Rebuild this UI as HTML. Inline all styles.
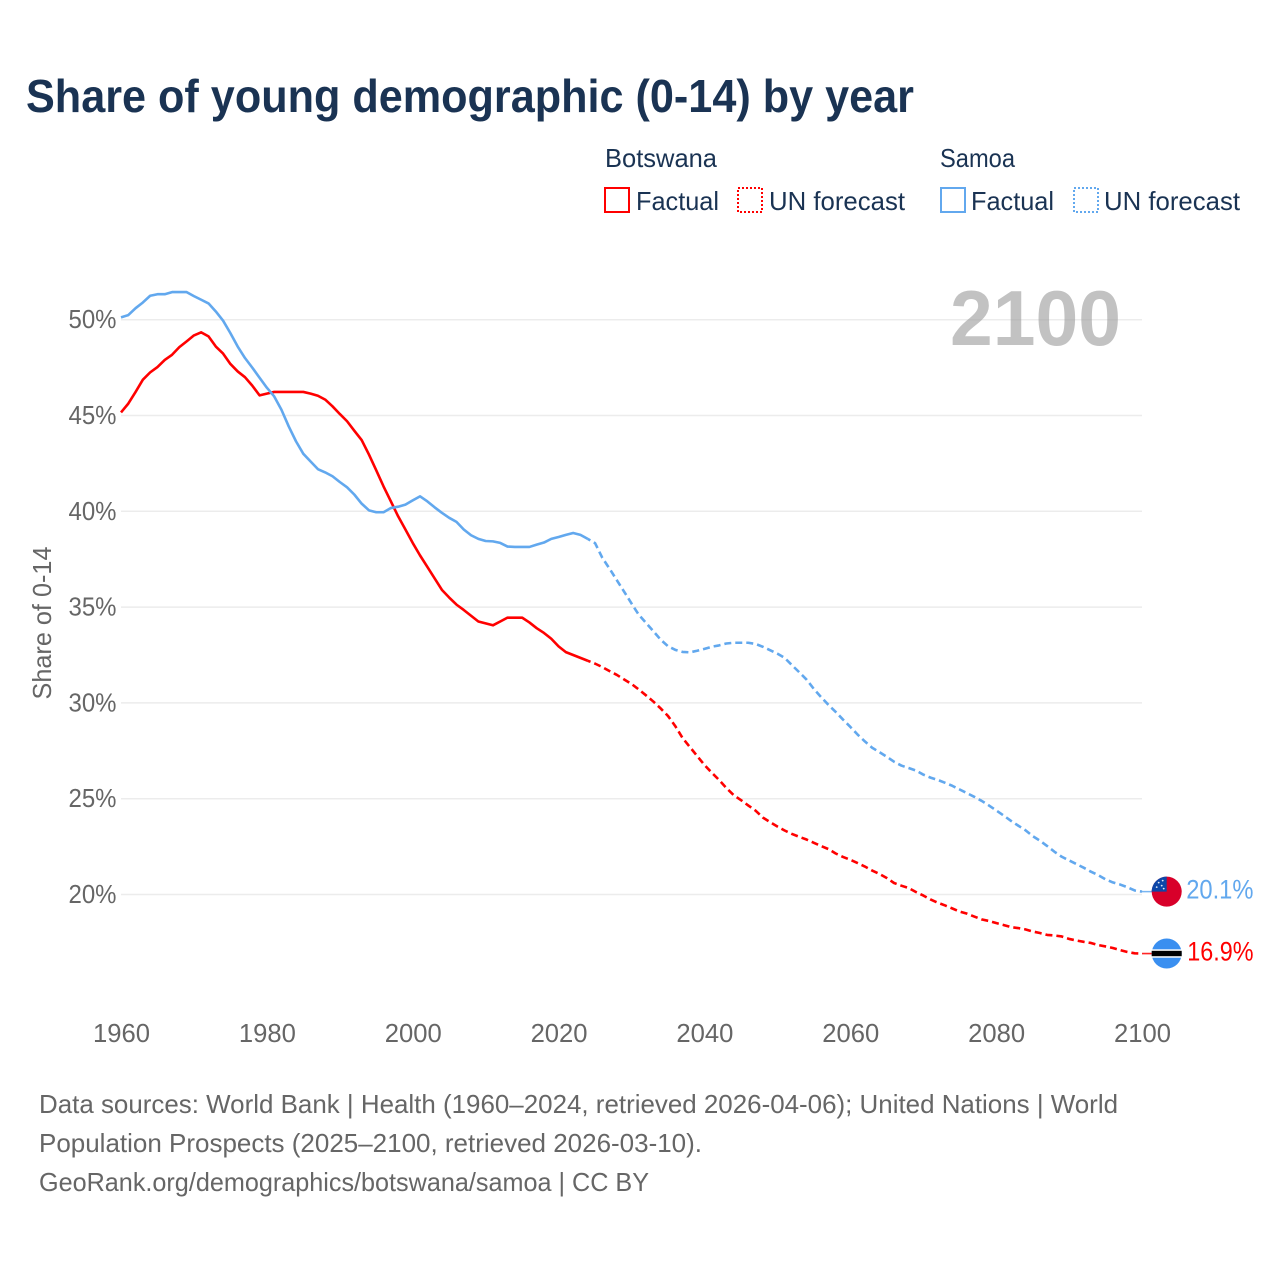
<!DOCTYPE html>
<html lang="en">
<head>
<meta charset="utf-8">
<title>Share of young demographic (0-14) by year</title>
<style>
html,body{margin:0;padding:0;background:#fff;}
svg{display:block;}
text{font-family:"Liberation Sans",sans-serif;}
</style>
</head>
<body>
<svg id="chart" xmlns="http://www.w3.org/2000/svg" width="1280" height="1280" viewBox="0 0 1280 1280">
  <rect x="0" y="0" width="1280" height="1280" fill="#ffffff"/>
  <text x="26" y="112" font-size="46" font-weight="700" fill="#1a3353" textLength="888" lengthAdjust="spacingAndGlyphs">Share of young demographic (0-14) by year</text>

  <g font-size="26" fill="#1a3353">
    <text x="605" y="167" textLength="112" lengthAdjust="spacingAndGlyphs">Botswana</text>
    <text x="940" y="167" textLength="75" lengthAdjust="spacingAndGlyphs">Samoa</text>
    <rect x="605" y="188" width="24" height="24" fill="none" stroke="#ff0000" stroke-width="2"/>
    <text x="636" y="210" textLength="83" lengthAdjust="spacingAndGlyphs">Factual</text>
    <rect x="738" y="188" width="24" height="24" fill="none" stroke="#ff0000" stroke-width="2" stroke-dasharray="2 2"/>
    <text x="769" y="210" textLength="136" lengthAdjust="spacingAndGlyphs">UN forecast</text>
    <rect x="941" y="188" width="24" height="24" fill="none" stroke="#62a8ee" stroke-width="2"/>
    <text x="971" y="210" textLength="83" lengthAdjust="spacingAndGlyphs">Factual</text>
    <rect x="1074" y="188" width="24" height="24" fill="none" stroke="#62a8ee" stroke-width="2" stroke-dasharray="2 2"/>
    <text x="1104" y="210" textLength="136" lengthAdjust="spacingAndGlyphs">UN forecast</text>
  </g>

  <g id="grid"></g>
  <g id="y-ticks"></g>
  <g id="x-ticks"></g>

  <text transform="translate(51,623) rotate(-90)" text-anchor="middle" font-size="26" fill="#666666" textLength="153" lengthAdjust="spacingAndGlyphs">Share of 0-14</text>
  <text x="950" y="345" font-size="78" font-weight="700" fill="#9c9c9c" fill-opacity="0.62" textLength="171" lengthAdjust="spacingAndGlyphs">2100</text>

  <g id="series"></g>
  <g id="end-markers"></g>

  <g font-size="26" fill="#666666">
    <text x="39" y="1113" textLength="1079" lengthAdjust="spacingAndGlyphs">Data sources: World Bank | Health (1960–2024, retrieved 2026-04-06); United Nations | World</text>
    <text x="39" y="1152" textLength="663" lengthAdjust="spacingAndGlyphs">Population Prospects (2025–2100, retrieved 2026-03-10).</text>
    <text x="39" y="1191" textLength="610" lengthAdjust="spacingAndGlyphs">GeoRank.org/demographics/botswana/samoa | CC BY</text>
  </g>
</svg>

<script>
const years = [1960,1961,1962,1963,1964,1965,1966,1967,1968,1969,
1970,1971,1972,1973,1974,1975,1976,1977,1978,1979,
1980,1981,1982,1983,1984,1985,1986,1987,1988,1989,
1990,1991,1992,1993,1994,1995,1996,1997,1998,1999,
2000,2001,2002,2003,2004,2005,2006,2007,2008,2009,
2010,2011,2012,2013,2014,2015,2016,2017,2018,2019,
2020,2021,2022,2023,2024,2025,2026,2027,2028,2029,
2030,2031,2032,2033,2034,2035,2036,2037,2038,2039,
2040,2041,2042,2043,2044,2045,2046,2047,2048,2049,
2050,2051,2052,2053,2054,2055,2056,2057,2058,2059,
2060,2061,2062,2063,2064,2065,2066,2067,2068,2069,
2070,2071,2072,2073,2074,2075,2076,2077,2078,2079,
2080,2081,2082,2083,2084,2085,2086,2087,2088,2089,
2090,2091,2092,2093,2094,2095,2096,2097,2098,2099,
2100];
const botswanaValues = [45.16,45.62,46.23,46.87,47.25,47.53,47.9,48.17,48.57,48.87,
49.18,49.34,49.13,48.6,48.23,47.69,47.3,47.0,46.56,46.05,
46.14,46.23,46.23,46.23,46.23,46.23,46.14,46.03,45.83,45.48,
45.08,44.7,44.2,43.72,42.96,42.14,41.3,40.52,39.74,39.05,
38.35,37.7,37.1,36.5,35.9,35.5,35.13,34.85,34.55,34.25,
34.15,34.05,34.25,34.45,34.45,34.45,34.2,33.9,33.65,33.35,
32.95,32.65,32.5,32.35,32.2,32.05,31.87,31.66,31.46,31.22,
30.99,30.7,30.39,30.07,29.71,29.32,28.79,28.17,27.7,27.23,
26.76,26.36,25.98,25.56,25.19,24.93,24.65,24.38,24.02,23.78,
23.55,23.34,23.16,23.01,22.87,22.7,22.53,22.37,22.14,21.96,
21.81,21.64,21.46,21.25,21.07,20.86,20.6,20.46,20.34,20.13,
19.95,19.74,19.57,19.43,19.27,19.11,19.0,18.85,18.7,18.62,
18.51,18.41,18.3,18.25,18.18,18.07,17.99,17.89,17.86,17.81,
17.68,17.6,17.53,17.47,17.36,17.29,17.21,17.1,17.0,16.93,
16.92];
const samoaValues = [50.12,50.24,50.6,50.9,51.25,51.33,51.33,51.44,51.44,51.44,
51.23,51.04,50.85,50.43,49.95,49.3,48.6,48.0,47.5,46.97,
46.45,46.0,45.3,44.43,43.65,43.0,42.6,42.2,42.03,41.83,
41.53,41.25,40.87,40.4,40.05,39.95,39.95,40.17,40.24,40.35,
40.57,40.78,40.52,40.21,39.92,39.66,39.45,39.05,38.75,38.56,
38.45,38.43,38.35,38.16,38.14,38.14,38.14,38.26,38.37,38.56,
38.66,38.77,38.87,38.77,38.56,38.34,37.57,37.0,36.4,35.8,
35.19,34.6,34.17,33.74,33.3,32.96,32.77,32.66,32.64,32.72,
32.82,32.93,33.0,33.1,33.14,33.14,33.14,33.08,32.93,32.75,
32.57,32.35,31.97,31.6,31.22,30.73,30.3,29.9,29.53,29.13,
28.75,28.35,27.99,27.66,27.43,27.19,26.93,26.73,26.6,26.47,
26.26,26.1,25.98,25.83,25.67,25.48,25.29,25.1,24.89,24.65,
24.39,24.13,23.85,23.6,23.36,23.05,22.81,22.53,22.23,21.97,
21.78,21.59,21.4,21.19,21.01,20.79,20.63,20.52,20.38,20.21,
20.15];
const yTickValues = [20,25,30,35,40,45,50];
const yTickLabels = ["20%","25%","30%","35%","40%","45%","50%"];
const xTickValues = [1960,1980,2000,2020,2040,2060,2080,2100];
const xTickLabels = ["1960","1980","2000","2020","2040","2060","2080","2100"];
const forecastStartYear = [2024];
const endLabels = ["16.9%","20.1%"];

const SVGNS = "http://www.w3.org/2000/svg";
const RED = "#ff0000";
const BLUE = "#62a8ee";
const PLOT_LEFT = 121;
const PLOT_RIGHT = 1142;
const FLAG_X = 1166.7;

function xScale(year){
  return PLOT_LEFT + (year - 1960) * (PLOT_RIGHT - PLOT_LEFT) / 140;
}
function yScale(value){
  return 894.5 - (value - 20) * 19.16;
}
function make(tag, attrs, parent){
  const el = document.createElementNS(SVGNS, tag);
  Object.keys(attrs).forEach(function(k){ el.setAttribute(k, attrs[k]); });
  parent.appendChild(el);
  return el;
}
function linePath(values, fromYear, toYear){
  const parts = [];
  years.forEach(function(year, i){
    if (year >= fromYear && year <= toYear) {
      parts.push((parts.length ? "L" : "M") + xScale(year).toFixed(2) + " " + yScale(values[i]).toFixed(2));
    }
  });
  return parts.join(" ");
}

const gridGroup = document.getElementById("grid");
const yTickGroup = document.getElementById("y-ticks");
yTickValues.forEach(function(tick, i){
  const gridLine = make("line", {x1: PLOT_LEFT, x2: PLOT_RIGHT, y1: yScale(tick), y2: yScale(tick), stroke: "#ececec", "stroke-width": 1.5}, gridGroup);
  
  
  const label = make("text", {x: 116.5, y: yScale(tick) + 8.5, "text-anchor": "end", "font-size": 26, fill: "#666666", textLength: 48, lengthAdjust: "spacingAndGlyphs"}, yTickGroup);
  
  
  label.textContent = yTickLabels[i];
});

const xTickGroup = document.getElementById("x-ticks");
xTickValues.forEach(function(tick, i){
  const label = make("text", {x: xScale(tick) + 0.5, y: 1042, "text-anchor": "middle", "font-size": 26, fill: "#666666", textLength: 57, lengthAdjust: "spacingAndGlyphs"}, xTickGroup);
  
  
  label.textContent = xTickLabels[i];
});

const seriesGroup = document.getElementById("series");
const lastYear = years[years.length - 1];
const base = {fill: "none", "stroke-width": 2.6, "stroke-linejoin": "round"};

function drawSeries(values, color, key){
  const solid = make("path", Object.assign({d: linePath(values, years[0], forecastStartYear[0]), stroke: color}, base), seriesGroup);
  
  
  const dashed = make("path", Object.assign({d: linePath(values, forecastStartYear[0], lastYear), stroke: color, "stroke-dasharray": "7 4", "stroke-dashoffset": 4}, base), seriesGroup);
  
  
  const endY = yScale(values[values.length - 1]);
  const connector = make("line", {x1: xScale(lastYear), x2: FLAG_X, y1: endY, y2: endY, stroke: color, "stroke-width": 1.6, "stroke-opacity": 0.85}, seriesGroup);
  
  
}
drawSeries(botswanaValues, RED, "botswana");
drawSeries(samoaValues, BLUE, "samoa");

const markerGroup = document.getElementById("end-markers");

function drawEndLabel(value, text, color, key, dx){
  const label = make("text", {x: FLAG_X + dx, y: yScale(value) + 7, "font-size": 26.5, fill: color, textLength: 1253.5 - FLAG_X - dx, lengthAdjust: "spacingAndGlyphs"}, markerGroup);
  
  
  label.textContent = text;
}

function drawBotswanaFlag(value){
  const cy = yScale(value);
  const g = make("g", {}, markerGroup);
  
  
  make("circle", {cx: FLAG_X, cy: cy, r: 15, fill: "#3a8ff0"}, g);
  make("rect", {x: FLAG_X - 14.8, y: cy - 4.2, width: 29.6, height: 8.4, fill: "#ffffff"}, g);
  make("rect", {x: FLAG_X - 15, y: cy - 2.7, width: 30, height: 5.4, fill: "#000000"}, g);
}

function drawSamoaFlag(value){
  const cy = yScale(value);
  const g = make("g", {}, markerGroup);
  
  
  make("circle", {cx: FLAG_X, cy: cy, r: 15, fill: "#d8002a"}, g);
  make("path", {d: "M" + FLAG_X + " " + cy + " H" + (FLAG_X - 15) + " A15 15 0 0 1 " + FLAG_X + " " + (cy - 15) + " Z", fill: "#0d47a8"}, g);
  [[-8,-9],[-4,-11],[-5,-6],[-10,-4.5],[-3,-3]].forEach(function(s){
    make("circle", {cx: FLAG_X + s[0], cy: cy + s[1], r: 0.9, fill: "#dfe8f5"}, g);
  });
}

drawBotswanaFlag(botswanaValues[botswanaValues.length - 1]);
drawSamoaFlag(samoaValues[samoaValues.length - 1]);
drawEndLabel(botswanaValues[botswanaValues.length - 1], endLabels[0], RED, "botswana", 20.5);
drawEndLabel(samoaValues[samoaValues.length - 1], endLabels[1], BLUE, "samoa", 19.5);
</script>
</body>
</html>
